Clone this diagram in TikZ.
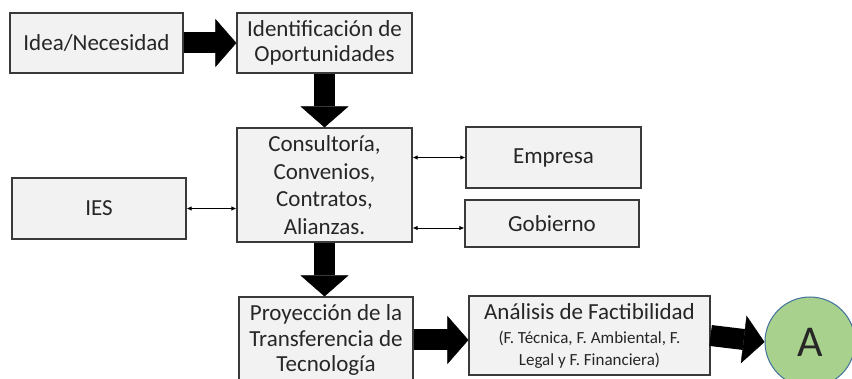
\documentclass[tikz,border=0pt]{standalone}
\usepackage{fontspec}
\setmainfont{Carlito}
\usetikzlibrary{arrows.meta}
\definecolor{cajagris}{HTML}{F2F2F2}
\definecolor{bordegris}{HTML}{3A3A3A}
\definecolor{verdeA}{HTML}{A9D18E}
\definecolor{azulA}{HTML}{41719C}

\begin{document}
\begin{tikzpicture}[x=1pt,y=-1pt,
  caja/.style={draw=bordegris,fill=cajagris,line width=1.2pt,align=center,inner sep=0pt,
    font=\fontsize{23}{27.5}\selectfont,text=black!85},
  flechagrande/.style={line width=21pt,-{Triangle[length=21pt,width=48pt,line width=0.4pt]}},
  flechita/.style={line width=0.9pt,{Latex[length=5pt,width=4.5pt]}-{Latex[length=5pt,width=4.5pt]}}]
\useasboundingbox (0,0) rectangle (852,379);
\node[caja,minimum width=173pt,minimum height=60pt] (idea) at (96.5,43) {Idea/Necesidad};
\node[caja,minimum width=175pt,minimum height=60pt] (ident) at (324.5,43) {Identificación de\\[-2pt]Oportunidades};
\node[caja,minimum width=175pt,minimum height=114pt] (cons) at (324.5,185) {Consultoría,\\Convenios,\\Contratos,\\Alianzas.};
\node[caja,minimum width=174pt,minimum height=61pt] (ies) at (99,208.5) {IES};
\node[caja,minimum width=175pt,minimum height=61pt] (emp) at (553.5,157.5) {Empresa};
\node[caja,minimum width=174pt,minimum height=47pt] (gob) at (552,223.5) {\raisebox{-4pt}{Gobierno}};
\node[caja,minimum width=174pt,minimum height=86pt] (proy) at (326,340) {Proyección de la\\[-2pt]Transferencia de\\[-2pt]Tecnología};
\node[caja,minimum width=241pt,minimum height=79pt] (anal) at (589.5,335.5)
  {Análisis de Factibilidad\\[-3pt]{\fontsize{17}{21}\selectfont (F. Técnica, F. Ambiental, F.}\\[-6pt]{\fontsize{17}{21}\selectfont Legal y F. Financiera)}};
\node[circle,draw=azulA,fill=verdeA,line width=1pt,minimum size=90pt,inner sep=0pt,
  font=\fontsize{44}{50}\selectfont,text=black!85] (letraA) at (810,342) {A};
% flechas grandes
\draw[flechagrande] (idea.east) -- (ident.west);
\draw[flechagrande] (ident.south) -- (cons.north);
\draw[flechagrande] (cons.south) -- (cons.south |- proy.north);
\draw[flechagrande] (proy.east) -- (proy.east -| anal.west);
\draw[flechagrande] (anal.east) -- (letraA.west);
% relaciones
\draw[flechita] (ies.east) -- (ies.east -| cons.west);
\draw[flechita] (emp.west -| cons.east) -- (emp.west);
\draw[flechita] ([yshift=-4.5pt]gob.west -| cons.east) -- ([yshift=-4.5pt]gob.west);
\end{tikzpicture}
\end{document}
